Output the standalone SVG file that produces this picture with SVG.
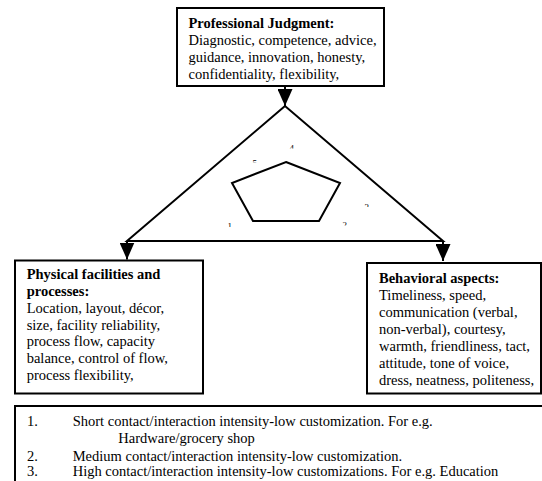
<svg xmlns="http://www.w3.org/2000/svg" width="542" height="481" viewBox="0 0 542 481">
<style>
.box{fill:#fff;stroke:#000;stroke-width:2}
.ln{fill:none;stroke:#000;stroke-width:2}
text{font-family:"Liberation Serif","Times New Roman",serif;font-size:14.5px;fill:#000}
.b{font-weight:bold}
.d{font-size:9px}
</style>
<defs>
<marker id="arr" markerUnits="userSpaceOnUse" viewBox="0 0 17 15" markerWidth="17" markerHeight="15" refX="17" refY="7.5" orient="auto">
<path d="M0,0 L17,7.5 L0,15 z" fill="#000"/>
</marker>
<clipPath id="c4"><rect x="288" y="143.5" width="9" height="5"/></clipPath>
<clipPath id="c5"><rect x="251" y="158.5" width="9" height="4"/></clipPath>
<clipPath id="c3"><rect x="363" y="202.5" width="9" height="4.5"/></clipPath>
<clipPath id="c2"><rect x="341" y="221" width="9" height="4.5"/></clipPath>
<clipPath id="c1"><rect x="226" y="222" width="9" height="5"/></clipPath>
</defs>
<rect width="542" height="481" fill="#fff"/>

<g id="connectors">
<path class="ln" d="M285,106 L127,241 L443,241 Z"/>
<line class="ln" x1="285" y1="86" x2="285" y2="106" marker-end="url(#arr)"/>
<line class="ln" x1="127" y1="241" x2="127" y2="259.5" marker-end="url(#arr)"/>
<line class="ln" x1="443" y1="241" x2="443" y2="261" marker-end="url(#arr)"/>
</g>

<g id="pentagon">
<polygon class="ln" points="286,162 340,183 319,221 253,221 232,183"/>
<text class="d" x="289.5" y="150.5" clip-path="url(#c4)">4</text>
<text class="d" x="252.5" y="165.5" clip-path="url(#c5)">5</text>
<text class="d" x="364.5" y="209.5" clip-path="url(#c3)">3</text>
<text class="d" x="342.5" y="228" clip-path="url(#c2)">2</text>
<text class="d" x="227.5" y="229" clip-path="url(#c1)">1</text>
</g>

<g id="professional">
<rect class="box" x="177" y="8" width="207" height="78"/>
<text class="b" x="188.5" y="27.5">Professional Judgment:</text>
<text x="188.5" y="44.7">Diagnostic, competence, advice,</text>
<text x="188.5" y="61.9">guidance, innovation, honesty,</text>
<text x="188.5" y="79">confidentiality, flexibility,</text>
</g>

<g id="physical">
<rect class="box" x="15" y="260.5" width="188" height="133"/>
<text class="b" x="26.7" y="279.3">Physical facilities and</text>
<text class="b" x="26.7" y="296">processes:</text>
<text x="26.7" y="312.8">Location, layout, décor,</text>
<text x="26.7" y="329.6">size, facility reliability,</text>
<text x="26.7" y="346.4">process flow, capacity</text>
<text x="26.7" y="363.2">balance, control of flow,</text>
<text x="26.7" y="380">process flexibility,</text>
</g>

<g id="behavioral">
<rect class="box" x="367" y="263" width="174" height="130.5"/>
<text class="b" x="379" y="283">Behavioral aspects:</text>
<text x="379" y="300">Timeliness, speed,</text>
<text x="379" y="317">communication (verbal,</text>
<text x="379" y="334">non-verbal), courtesy,</text>
<text x="379" y="351">warmth, friendliness, tact,</text>
<text x="379" y="368">attitude, tone of voice,</text>
<text x="379" y="385">dress, neatness, politeness,</text>
</g>

<g id="legend">
<rect class="box" x="15" y="406" width="540" height="100"/>
<text x="27" y="426">1.</text>
<text x="72.7" y="426">Short contact/interaction intensity-low customization. For e.g.</text>
<text x="118.3" y="443">Hardware/grocery shop</text>
<text x="27" y="461">2.</text>
<text x="72.7" y="461">Medium contact/interaction intensity-low customization.</text>
<text x="27" y="476">3.</text>
<text x="72.7" y="476">High contact/interaction intensity-low customizations. For e.g. Education</text>
</g>
</svg>
